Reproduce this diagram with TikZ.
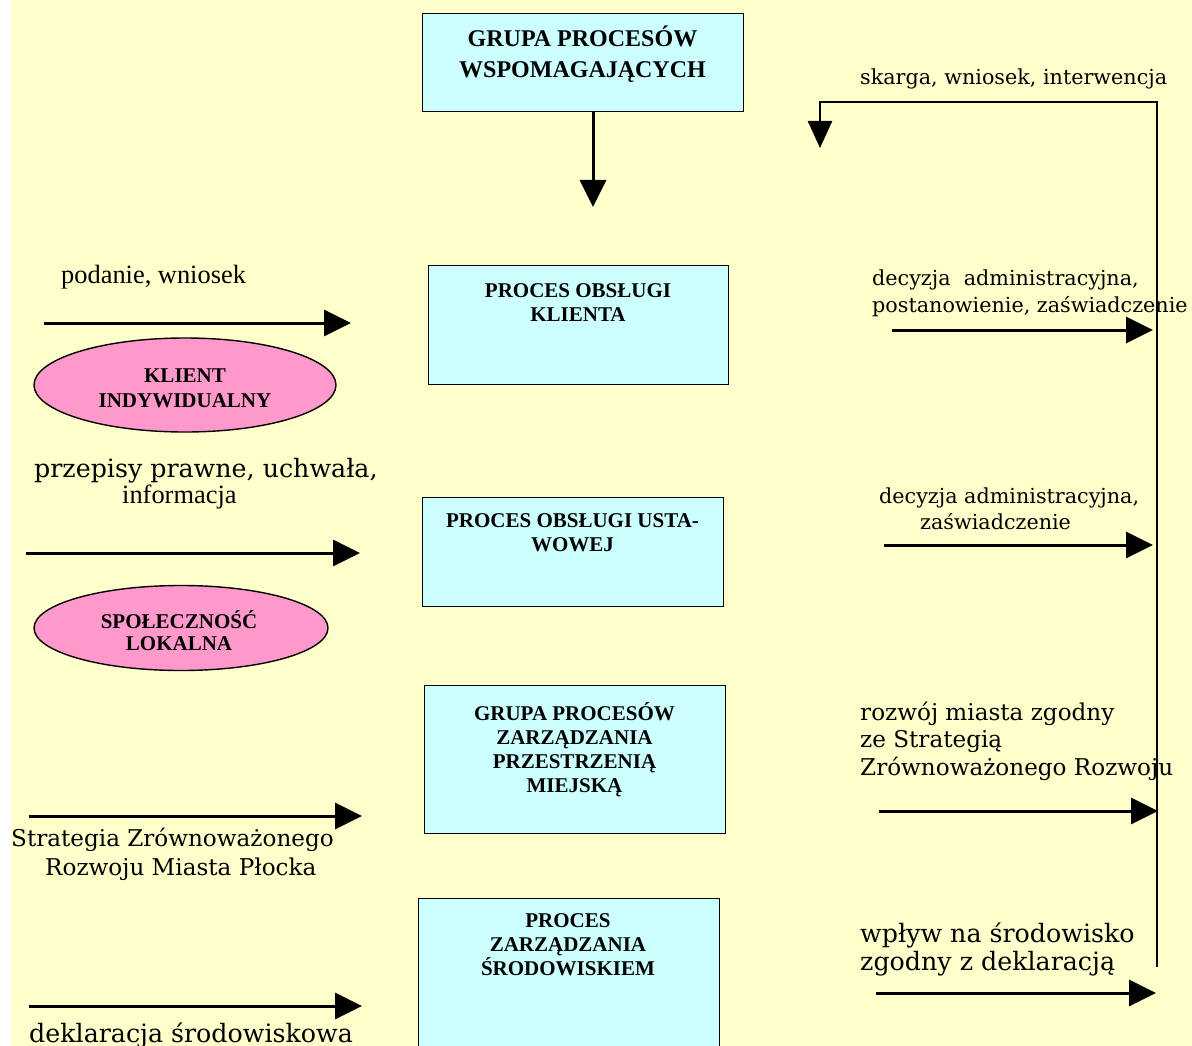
\documentclass[tikz,border=0pt]{standalone}
\usepackage{fontspec}
\setmainfont{Liberation Serif}
\newfontfamily\geo{DejaVu Serif}
\usetikzlibrary{arrows.meta,shapes.geometric}
\definecolor{bgc}{HTML}{FFFFCC}
\definecolor{boxc}{HTML}{CCFFFF}
\definecolor{pinkc}{HTML}{FF99CC}
\tikzset{
  procbox/.style={draw=black, line width=1.3pt, fill=boxc, anchor=north west, inner sep=0pt},
  ellbox/.style={ellipse, draw=black, line width=1.4pt, fill=pinkc, inner sep=0pt},
  boxtxt/.style={font=\bfseries\fontsize{21}{24}\selectfont, inner sep=0pt, anchor=base},
  toptxt/.style={font=\bfseries\fontsize{24}{30}\selectfont, inner sep=0pt, anchor=base},
  flow/.style={line width=3pt, -{Triangle[length=27pt,width=26pt]}},
  back/.style={line width=2.5pt, line join=miter, -{Triangle[length=27pt,width=24pt]}},
  glbl/.style={inner sep=0pt, anchor=base west, font=\geo\fontsize{25.3}{29}\selectfont},
  glblm/.style={inner sep=0pt, anchor=base west, font=\geo\fontsize{23.1}{27}\selectfont},
  glbls/.style={inner sep=0pt, anchor=base west, font=\geo\fontsize{20.7}{24}\selectfont},
  tlbl/.style={inner sep=0pt, anchor=base west, font=\fontsize{26.4}{30}\selectfont}
}
\begin{document}
\begin{tikzpicture}[x=1pt,y=-1pt]
\useasboundingbox (0,0) rectangle (1192,1046);
\clip (0,0) rectangle (1192,1046);
\fill[white] (0,0) rectangle (1192,1046);
\fill[bgc] (11,0) rectangle (1192,1046);

% boxes
\node[procbox, minimum width=321pt, minimum height=98pt] (top) at (422,13) {};
\node[procbox, minimum width=300pt, minimum height=119pt] (b1) at (428,265) {};
\node[procbox, minimum width=301pt, minimum height=109pt] (b2) at (422,497) {};
\node[procbox, minimum width=301pt, minimum height=148pt] (b3) at (424,685) {};
\node[procbox, minimum width=301pt, minimum height=180pt] (b4) at (418,898) {};

\node[ellbox, minimum width=302pt, minimum height=94pt] (e1) at (185,385) {};
\node[ellbox, minimum width=294pt, minimum height=85pt] (e2) at (181,628) {};

% box texts
\node[toptxt] (t1) at (582.5,47) {GRUPA PROCESÓW};
\node[toptxt] (t2) at (582.5,78) {WSPOMAGAJĄCYCH};
\node[boxtxt] (k1) at (578,297) {PROCES OBSŁUGI};
\node[boxtxt] (k2) at (578,321) {KLIENTA};
\node[boxtxt] (u1) at (572.5,527) {PROCES OBSŁUGI USTA-};
\node[boxtxt] (u2) at (572.5,551) {WOWEJ};
\node[boxtxt] (z1) at (574.5,720) {GRUPA PROCESÓW};
\node[boxtxt] (z2) at (574.5,744) {ZARZĄDZANIA};
\node[boxtxt] (z3) at (574.5,768) {PRZESTRZENIĄ};
\node[boxtxt] (z4) at (574.5,792) {MIEJSKĄ};
\node[boxtxt] (s1) at (568,927) {PROCES};
\node[boxtxt] (s2) at (568,951) {ZARZĄDZANIA};
\node[boxtxt] (s3) at (568,975) {ŚRODOWISKIEM};
\node[boxtxt] (ki1) at (185,382) {KLIENT};
\node[boxtxt] (ki2) at (185,407) {INDYWIDUALNY};
\node[boxtxt] (sp1) at (179,628) {SPOŁECZNOŚĆ};
\node[boxtxt] (sp2) at (179,650) {LOKALNA};

% labels
\node[glbls] (l1) at (860,85) {skarga, wniosek, interwencja};
\node[tlbl] (l2) at (61,283) {podanie, wniosek};
\node[glbl] (l3) at (34,477) {przepisy prawne, uchwała,};
\node[tlbl] (l4) at (122,503) {informacja};
\node[glbls] (l5) at (872,285) {decyzja~ administracyjna,};
\node[glbls] (l6) at (872,312) {postanowienie, zaświadczenie};
\node[glbls] (l7) at (879,503) {decyzja administracyjna,};
\node[glbls] (l8) at (920,529) {zaświadczenie};
\node[glblm] (l9) at (11,846) {Strategia Zrównoważonego};
\node[glblm] (l10) at (45,875) {Rozwoju Miasta Płocka};
\node[glbl] (l11) at (29,1042) {deklaracja środowiskowa};
\node[glblm] (l12) at (860,720) {rozwój miasta zgodny};
\node[glblm] (l13) at (860,747) {ze Strategią};
\node[glblm] (l14) at (860,775) {Zrównoważonego Rozwoju};
\node[glbl] (l15) at (860,942) {wpływ na środowisko};
\node[glbl] (l16) at (860,970) {zgodny z deklaracją};

% coordinates
\coordinate (ta) at (593,207);
\coordinate (a1s) at (44,323);   \coordinate (a1e) at (351,323);
\coordinate (a2s) at (26,553);   \coordinate (a2e) at (360,553);
\coordinate (a3s) at (29,816);   \coordinate (a3e) at (362,816);
\coordinate (a4s) at (29,1006);  \coordinate (a4e) at (362,1006);
\coordinate (r1s) at (892,330);  \coordinate (r1e) at (1153,330);
\coordinate (r2s) at (884,545);  \coordinate (r2e) at (1153,545);
\coordinate (r3s) at (879,811);  \coordinate (r3e) at (1158,811);
\coordinate (r4s) at (876,993);  \coordinate (r4e) at (1156,993);
\coordinate (fb0) at (1157,967);
\coordinate (fb1) at (1157,102);
\coordinate (fb2) at (820,102);
\coordinate (fb3) at (820,148);

% connectors
\draw[flow] (ta |- top.south) -- (ta);
\draw[flow] (a1s) -- (a1e);
\draw[flow] (a2s) -- (a2e);
\draw[flow] (a3s) -- (a3e);
\draw[flow] (a4s) -- (a4e);
\draw[flow] (r1s) -- (r1e);
\draw[flow] (r2s) -- (r2e);
\draw[flow] (r3s) -- (r3e);
\draw[flow] (r4s) -- (r4e);
\draw[back] (fb0) -- (fb1) -- (fb2) -- (fb3);
\end{tikzpicture}
\end{document}
